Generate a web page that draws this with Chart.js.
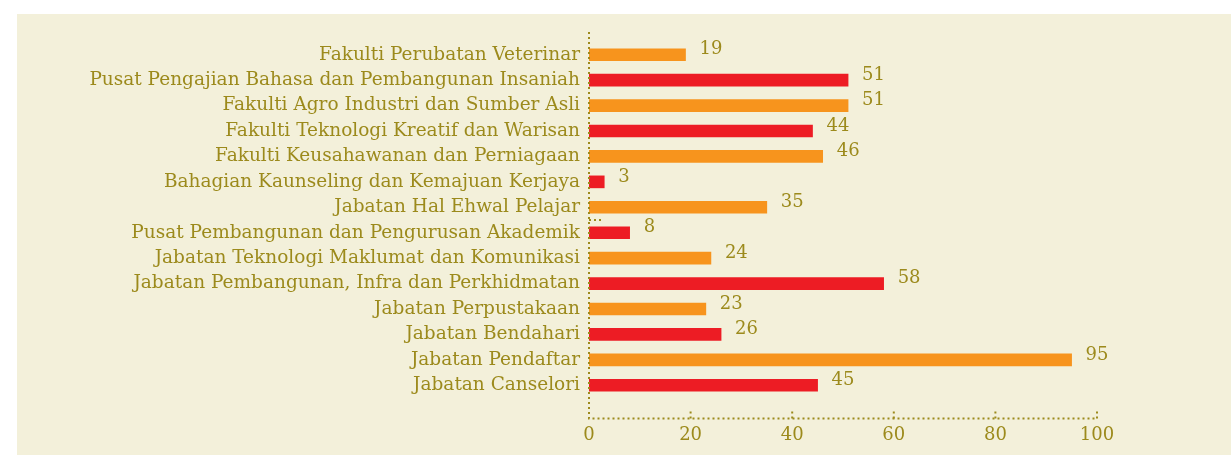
<!DOCTYPE html>
<html>
<head>
<meta charset="utf-8">
<script src="https://cdn.jsdelivr.net/npm/chart.js@4"></script>
<style>
html,body{margin:0;padding:0;background:#ffffff;}
#wrap{position:absolute;left:17px;top:14px;width:1214px;height:441px;background:#f3f0da;}
</style>
</head>
<body>
<div id="wrap"><canvas id="c" width="1214" height="441"></canvas></div>
<script>
const categories = [
  "Fakulti Perubatan Veterinar",
  "Pusat Pengajian Bahasa dan Pembangunan Insaniah",
  "Fakulti Agro Industri dan Sumber Asli",
  "Fakulti Teknologi Kreatif dan Warisan",
  "Fakulti Keusahawanan dan Perniagaan",
  "Bahagian Kaunseling dan Kemajuan Kerjaya",
  "Jabatan Hal Ehwal Pelajar",
  "Pusat Pembangunan dan Pengurusan Akademik",
  "Jabatan Teknologi Maklumat dan Komunikasi",
  "Jabatan Pembangunan, Infra dan Perkhidmatan",
  "Jabatan Perpustakaan",
  "Jabatan Bendahari",
  "Jabatan Pendaftar",
  "Jabatan Canselori"
];
const values = [19, 51, 51, 44, 46, 3, 35, 8, 24, 58, 23, 26, 95, 45];
const xTicks = [0, 20, 40, 60, 80, 100];

const ORANGE = "#f7941d", RED = "#ed1c24", TEXT = "#9c8a1c";
const FONT = "'DejaVu Serif', serif";
const barColors = values.map((v, i) => i % 2 === 0 ? ORANGE : RED);

const axesPlugin = {
  id: 'dottedAxes',
  afterDraw(chart) {
    const ctx = chart.ctx, x = chart.scales.x, y = chart.scales.y, ca = chart.chartArea;
    const x0 = x.getPixelForValue(0), x1 = x.getPixelForValue(100);
    const axY = ca.bottom + 20.5;
    ctx.save();
    ctx.strokeStyle = TEXT; ctx.lineWidth = 2; ctx.setLineDash([2, 3]);
    ctx.beginPath();
    ctx.moveTo(x0, ca.top - 10); ctx.lineTo(x0, axY);
    ctx.lineTo(x1, axY);
    ctx.stroke();
    xTicks.slice(1).forEach((t) => {
      const px = x.getPixelForValue(t);
      ctx.beginPath();
      ctx.moveTo(px, axY); ctx.lineTo(px, axY - (t === 100 ? 10 : 8));
      ctx.stroke();
    });
    // small stub between rows 6 and 7
    const ys = (y.getPixelForValue(6) + y.getPixelForValue(7)) / 2;
    ctx.beginPath(); ctx.moveTo(x0, ys); ctx.lineTo(x0 + 13, ys); ctx.stroke();
    ctx.restore();
  },
  afterDatasetsDraw(chart) {
    const ctx = chart.ctx, meta = chart.getDatasetMeta(0);
    ctx.save();
    ctx.fillStyle = TEXT; ctx.font = "18px " + FONT;
    ctx.textAlign = 'left'; ctx.textBaseline = 'middle';
    meta.data.forEach((bar, i) => {
      ctx.fillText(String(values[i]), bar.x + 14, bar.y - 5);
    });
    ctx.restore();
  }
};

new Chart(document.getElementById('c'), {
  type: 'bar',
  data: {
    labels: categories,
    datasets: [{ data: values, backgroundColor: barColors, barThickness: 12, borderWidth: 0 }]
  },
  options: {
    indexAxis: 'y',
    responsive: false,
    animation: false,
    layout: { padding: { left: 0, right: 134, top: 28, bottom: 0 } },
    plugins: { legend: { display: false }, tooltip: { enabled: false } },
    scales: {
      x: {
        min: 0, max: 100,
        afterBuildTicks(s) { s.ticks = xTicks.map(v => ({ value: v })); },
        afterFit(s) { s.height = 57; },
        grid: { display: false, drawTicks: false },
        border: { display: false },
        ticks: { color: TEXT, font: { family: FONT, size: 18 }, padding: 27 }
      },
      y: {
        afterFit(s) { s.width = 572; },
        grid: { display: false, drawTicks: false },
        border: { display: false },
        ticks: { color: TEXT, font: { family: FONT, size: 18.5 }, padding: 9, autoSkip: false }
      }
    }
  },
  plugins: [axesPlugin]
});
</script>
</body>
</html>
